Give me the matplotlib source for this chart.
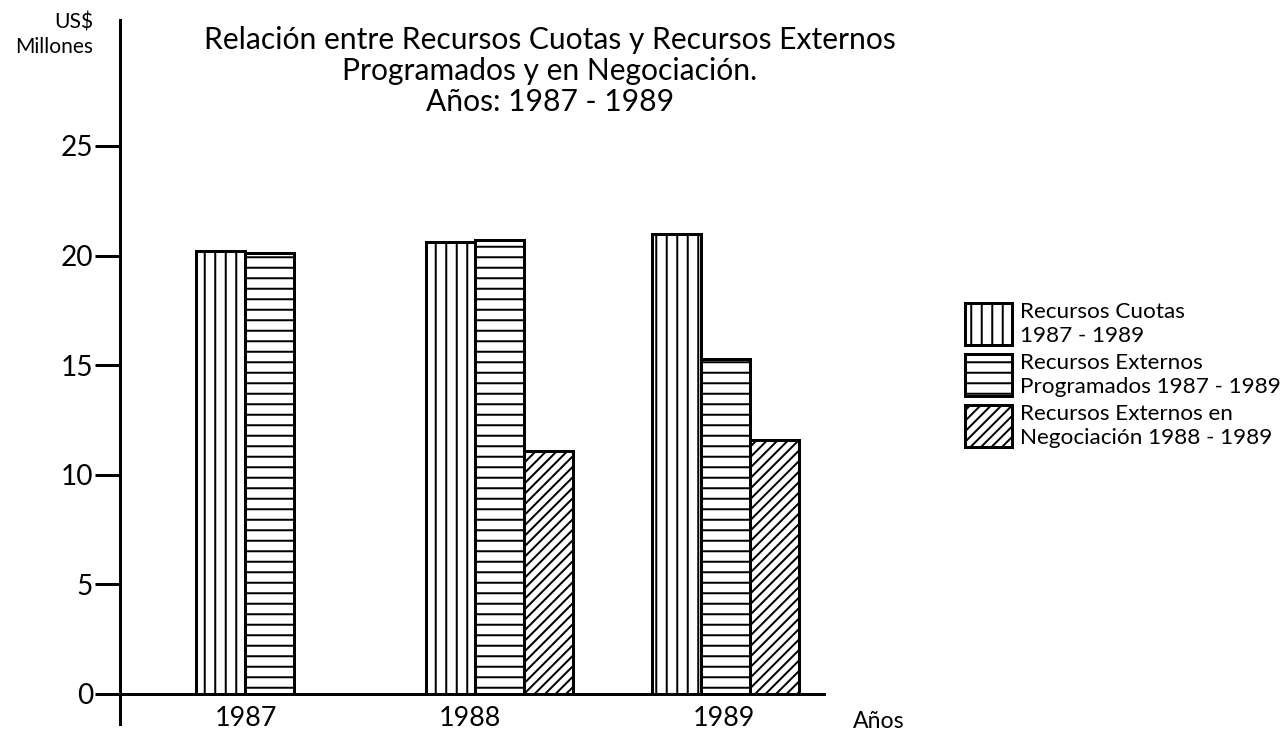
import numpy as np
import matplotlib
matplotlib.use('Agg')
import matplotlib.pyplot as plt
from matplotlib.patches import Rectangle

# données (millions US$)
annees = ['1987', '1988', '1989']
cuotas = [20.2, 20.6, 21.0]
programados = [20.1, 20.7, 15.3]
negociacion = [np.nan, 11.1, 11.6]

etiquettes = ['Recursos Cuotas\n1987 - 1989',
              'Recursos Externos\nProgramados 1987 - 1989',
              'Recursos Externos en\nNegociación 1988 - 1989']

DPI = 126
PT = 72 / DPI  # pixels -> points
W, H = 1284, 736

plt.rcParams['font.family'] = ['Lato', 'DejaVu Sans']
plt.rcParams['hatch.linewidth'] = 2 * PT
plt.rcParams['hatch.color'] = 'black'

fig = plt.figure(figsize=(W / DPI, H / DPI), dpi=DPI)
ax = fig.add_axes([120 / W, 1 - 724 / H, 706 / W, 704 / H])

# position gauche de chaque groupe (en largeurs de barre)
debut_groupe = np.array([1.55, 6.25, 10.85])
pos_etiquette = np.array([2.57, 7.14, 12.33])
larg = 1.0
hachures = ['||', '--', '////']

style = dict(width=larg, align='edge', facecolor='white',
             edgecolor='black', linewidth=3 * PT)
ax.bar(debut_groupe, cuotas, hatch=hachures[0], **style)
ax.bar(debut_groupe + larg, programados, hatch=hachures[1], **style)
ax.bar(debut_groupe + 2 * larg, negociacion, hatch=hachures[2], **style)

ax.set_xlim(0, 14.41)
ax.set_ylim(-30 / 21.92, 674 / 21.92)
ax.axhline(0, color='black', lw=3 * PT, zorder=5)

for s in ['top', 'right', 'bottom']:
    ax.spines[s].set_visible(False)
ax.spines['left'].set_linewidth(3 * PT)

ax.set_xticks([])
ax.set_yticks([0, 5, 10, 15, 20, 25])
ax.tick_params(axis='y', direction='out', length=25 * PT, width=3 * PT,
               pad=2 * PT, labelsize=28 * PT)

for x, a in zip(pos_etiquette, annees):
    ax.text(x, -1.1, a, ha='center', va='center', fontsize=27 * PT,
            clip_on=False)

fig.text(879 / W, 1 - 722 / H, 'Años', ha='center', va='center',
         fontsize=23 * PT)
fig.text(93 / W, 1 - 35 / H, 'US$\nMillones', ha='right', va='center',
         fontsize=21 * PT, multialignment='right', linespacing=1.3)

fig.text(550 / W, 1 - 71 / H,
         'Relación entre Recursos Cuotas y Recursos Externos\n'
         'Programados y en Negociación.\nAños: 1987 - 1989',
         ha='center', va='center', multialignment='center',
         fontsize=30 * PT, linespacing=1.15)

# légende dessinée à la main
for i, (h, lab) in enumerate(zip(hachures, etiquettes)):
    haut = 303 + 51 * i
    fig.add_artist(Rectangle((965 / W, 1 - (haut + 42) / H), 47 / W, 42 / H,
                             transform=fig.transFigure, facecolor='white',
                             edgecolor='black', linewidth=3 * PT, hatch=h))
    fig.text(1020 / W, 1 - (haut + 21) / H, lab, ha='left', va='center',
             fontsize=22.5 * PT, linespacing=1.25)

fig.savefig('out.png', dpi=DPI)
